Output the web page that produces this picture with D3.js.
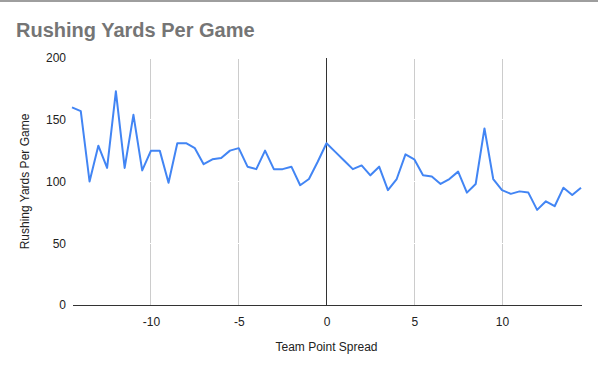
<!DOCTYPE html>
<html>
<head>
<meta charset="utf-8">
<script src="https://cdn.jsdelivr.net/npm/d3@7"></script>
<style>
  body { margin: 0; background: #fff; }
  svg { display: block; font-family: "Liberation Sans", Arial, sans-serif; }
</style>
</head>
<body>
<div class="canvas"></div>
<script>
// data
const spreads = [-14.5, -14, -13.5, -13, -12.5, -12, -11.5, -11, -10.5, -10,
  -9.5, -9, -8.5, -8, -7.5, -7, -6.5, -6, -5.5, -5,
  -4.5, -4, -3.5, -3, -2.5, -2, -1.5, -1, -0.5, 0,
  0.5, 1, 1.5, 2, 2.5, 3, 3.5, 4, 4.5, 5,
  5.5, 6, 6.5, 7, 7.5, 8, 8.5, 9, 9.5, 10,
  10.5, 11, 11.5, 12, 12.5, 13, 13.5, 14, 14.5];
const yards = [160, 157, 100, 129, 111, 173, 111, 154, 109, 125,
  125, 99, 131, 131, 127, 114, 118, 119, 125, 127,
  112, 110, 125, 110, 110, 112, 97, 102, 116, 131,
  124, 117, 110, 113, 105, 112, 93, 102, 122, 118,
  105, 104, 98, 102, 108, 91, 98, 143, 102, 93,
  90, 92, 91, 77, 84, 80, 95, 89, 95];
const xTicks = [-10, -5, 0, 5, 10];
const yTicks = [0, 50, 100, 150, 200];

const width = 598, height = 369;

const svg = d3.select('.canvas')
  .append('svg')
  .attr('width', width)
  .attr('height', height);

// top border
svg.append('rect')
  .attr('x', 0).attr('y', 0)
  .attr('width', width).attr('height', 2)
  .attr('fill', '#9e9e9e');

const margin = { top: 58, right: 17, bottom: 64, left: 72 };
const graphWidth = width - margin.left - margin.right;
const graphHeight = height - margin.top - margin.bottom;

const graph = svg.append('g')
  .attr('transform', `translate(${margin.left},${margin.top})`);

// scales
const x = d3.scaleLinear()
  .domain([-14.5, 14.5])
  .range([0, graphWidth]);

const y = d3.scaleLinear()
  .domain([0, 200])
  .range([graphHeight, 0]);

// vertical gridlines
graph.append('g')
  .selectAll('line')
  .data(xTicks.filter(d => d !== 0))
  .enter()
  .append('line')
  .attr('x1', d => x(d)).attr('x2', d => x(d))
  .attr('y1', 0).attr('y2', graphHeight)
  .attr('stroke', '#cccccc')
  .attr('stroke-width', 1)
  .attr('shape-rendering', 'crispEdges');

// horizontal gridlines (white, only visible where they cross vertical ones)
graph.append('g')
  .selectAll('line')
  .data(yTicks.filter(d => d !== 0))
  .enter()
  .append('line')
  .attr('x1', 0).attr('x2', graphWidth)
  .attr('y1', d => y(d)).attr('y2', d => y(d))
  .attr('stroke', '#ffffff')
  .attr('stroke-width', 1)
  .attr('shape-rendering', 'crispEdges');

// zero line
graph.append('line')
  .attr('x1', x(0)).attr('x2', x(0))
  .attr('y1', 0).attr('y2', graphHeight)
  .attr('stroke', '#333333')
  .attr('shape-rendering', 'crispEdges');

// axes
const xAxis = d3.axisBottom(x)
  .tickValues(xTicks)
  .tickFormat(d => String(d))
  .tickSize(0)
  .tickPadding(12);
const yAxis = d3.axisLeft(y)
  .tickValues(yTicks)
  .tickFormat(d => String(d))
  .tickSize(0)
  .tickPadding(6);

const xAxisGroup = graph.append('g')
  .attr('transform', `translate(0,${graphHeight})`)
  .call(xAxis);
const yAxisGroup = graph.append('g').call(yAxis);

yAxisGroup.select('.domain').remove();
xAxisGroup.select('.domain')
  .attr('stroke', '#333333')
  .attr('shape-rendering', 'crispEdges');

[xAxisGroup, yAxisGroup].forEach(g => {
  g.selectAll('text')
    .attr('fill', '#222222')
    .attr('font-size', 12)
    .attr('font-family', '"Liberation Sans", Arial, sans-serif');
});

// line
const line = d3.line()
  .x((d, i) => x(spreads[i]))
  .y(d => y(d));

graph.append('path')
  .datum(yards)
  .attr('d', line)
  .attr('fill', 'none')
  .attr('stroke', '#4285f4')
  .attr('stroke-width', 2)
  .attr('stroke-linejoin', 'round');

// titles
svg.append('text')
  .attr('x', 16).attr('y', 37)
  .attr('font-size', 20)
  .attr('font-weight', 'bold')
  .attr('fill', '#757575')
  .text('Rushing Yards Per Game');

svg.append('text')
  .attr('x', margin.left + x(0)).attr('y', 351)
  .attr('text-anchor', 'middle')
  .attr('font-size', 12)
  .attr('fill', '#222222')
  .text('Team Point Spread');

svg.append('text')
  .attr('transform', `translate(29,${margin.top + graphHeight / 2}) rotate(-90)`)
  .attr('text-anchor', 'middle')
  .attr('font-size', 12)
  .attr('fill', '#222222')
  .text('Rushing Yards Per Game');
</script>
</body>
</html>
